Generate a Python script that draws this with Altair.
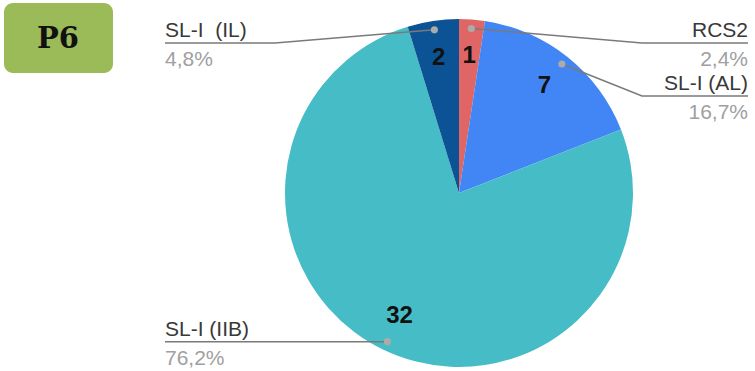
import altair as alt
import numpy as np
import pandas as pd

# ---- data ----
categories = ["RCS2", "SL-I (AL)", "SL-I (IIB)", "SL-I\u00a0 (IL)"]
counts = [1, 7, 32, 2]
percent_labels = ["2,4%", "16,7%", "76,2%", "4,8%"]
colors = ["#E06666", "#4285F4", "#46BDC6", "#0B5394"]
badge_text = "P6"

# ---- layout constants (pixels) ----
W, H = 755, 371
CX, CY, R = 459, 193, 174
DOT_R = 165
# per category: elbow x, label line y, line end x, side
layout = {
    "RCS2": dict(elbow=642, line_y=43, end=748, side="right"),
    "SL-I (AL)": dict(elbow=642, line_y=96, end=748, side="right"),
    "SL-I (IIB)": dict(elbow=None, line_y=None, end=165, side="left"),
    "SL-I\u00a0 (IL)": dict(elbow=275, line_y=43, end=165, side="left"),
}

pie = pd.DataFrame({"cat": categories, "n": counts, "idx": range(len(counts))})

total = sum(counts)
cum = np.cumsum([0] + counts)
line_rows, dot_rows, label_rows = [], [], []
for i, c in enumerate(categories):
    a = (cum[i] + counts[i] / 2) / total * 2 * np.pi
    dx, dy = CX + DOT_R * np.sin(a), CY - DOT_R * np.cos(a)
    L = layout[c]
    ly = L["line_y"] if L["line_y"] is not None else dy
    pts = [(dx, dy)]
    if L["elbow"] is not None:
        pts.append((L["elbow"], ly))
    pts.append((L["end"], ly))
    for s, (px, py) in enumerate(pts):
        line_rows.append(dict(cat=c, seq=s, px=px, py=py))
    dot_rows.append(dict(cat=c, px=dx, py=dy))
    label_rows.append(dict(cat=c, kind="name", side=L["side"], px=L["end"], py=ly - 6, text=c))
    label_rows.append(dict(cat=c, kind="pct", side=L["side"], px=L["end"], py=ly + 23, text=percent_labels[i]))

lines = pd.DataFrame(line_rows)
dots = pd.DataFrame(dot_rows)
labels = pd.DataFrame(label_rows)

xs = alt.Scale(domain=[0, W], range=[0, W])
ys = alt.Scale(domain=[0, H], range=[0, H])
X = lambda f: alt.X(f, type="quantitative", scale=xs, axis=None)
Y = lambda f: alt.Y(f, type="quantitative", scale=ys, axis=None)

arcs = alt.Chart(pie).mark_arc(outerRadius=R, stroke=None).encode(
    theta=alt.Theta("n:Q", stack=True),
    order=alt.Order("idx:Q"),
    color=alt.Color("cat:N", scale=alt.Scale(domain=categories, range=colors), legend=None),
    x=alt.value(CX),
    y=alt.value(CY),
)

numbers = alt.Chart(pie).mark_text(
    radius=137, font="Liberation Sans", fontSize=24, fontWeight="bold",
    color="#111111", baseline="middle", align="center",
).encode(
    theta=alt.Theta("n:Q", stack=True),
    order=alt.Order("idx:Q"),
    text=alt.Text("n:Q"),
    x=alt.value(CX),
    y=alt.value(CY),
)

leader = alt.Chart(lines).mark_line(color="#7a7a7a", strokeWidth=1.5).encode(
    x=X("px"), y=Y("py"), detail="cat:N", order="seq:Q"
)

dot_layer = alt.Chart(dots).mark_circle(size=50, color="#ababab", opacity=1).encode(
    x=X("px"), y=Y("py")
)

def label_layer(kind, side, color):
    return alt.Chart(labels).transform_filter(
        (alt.datum.kind == kind) & (alt.datum.side == side)
    ).mark_text(
        font="Liberation Sans", fontSize=21, color=color,
        align="right" if side == "right" else "left", baseline="alphabetic",
    ).encode(x=X("px"), y=Y("py"), text="text:N")

label_layers = [
    label_layer("name", "right", "#383838"),
    label_layer("name", "left", "#383838"),
    label_layer("pct", "right", "#a0a0a0"),
    label_layer("pct", "left", "#a0a0a0"),
]

badge_df = pd.DataFrame({"t": [badge_text]})
badge = alt.Chart(badge_df).mark_rect(color="#9BBB59", cornerRadius=9).encode(
    x=alt.value(4), x2=alt.value(113), y=alt.value(3), y2=alt.value(73)
)
badge_label = alt.Chart(badge_df).mark_text(
    font="DejaVu Serif", fontSize=29, fontWeight="bold", color="#111111",
    align="center", baseline="middle",
).encode(x=alt.value(58), y=alt.value(39), text="t:N")

chart = alt.layer(
    arcs, numbers, leader, dot_layer, *label_layers, badge, badge_label
).properties(
    width=W, height=H, padding=0, autosize=alt.AutoSizeParams(type="none"),
    background="white",
).configure_view(stroke=None)

chart.save("out.html", embed_options={"renderer": "svg", "actions": False})
